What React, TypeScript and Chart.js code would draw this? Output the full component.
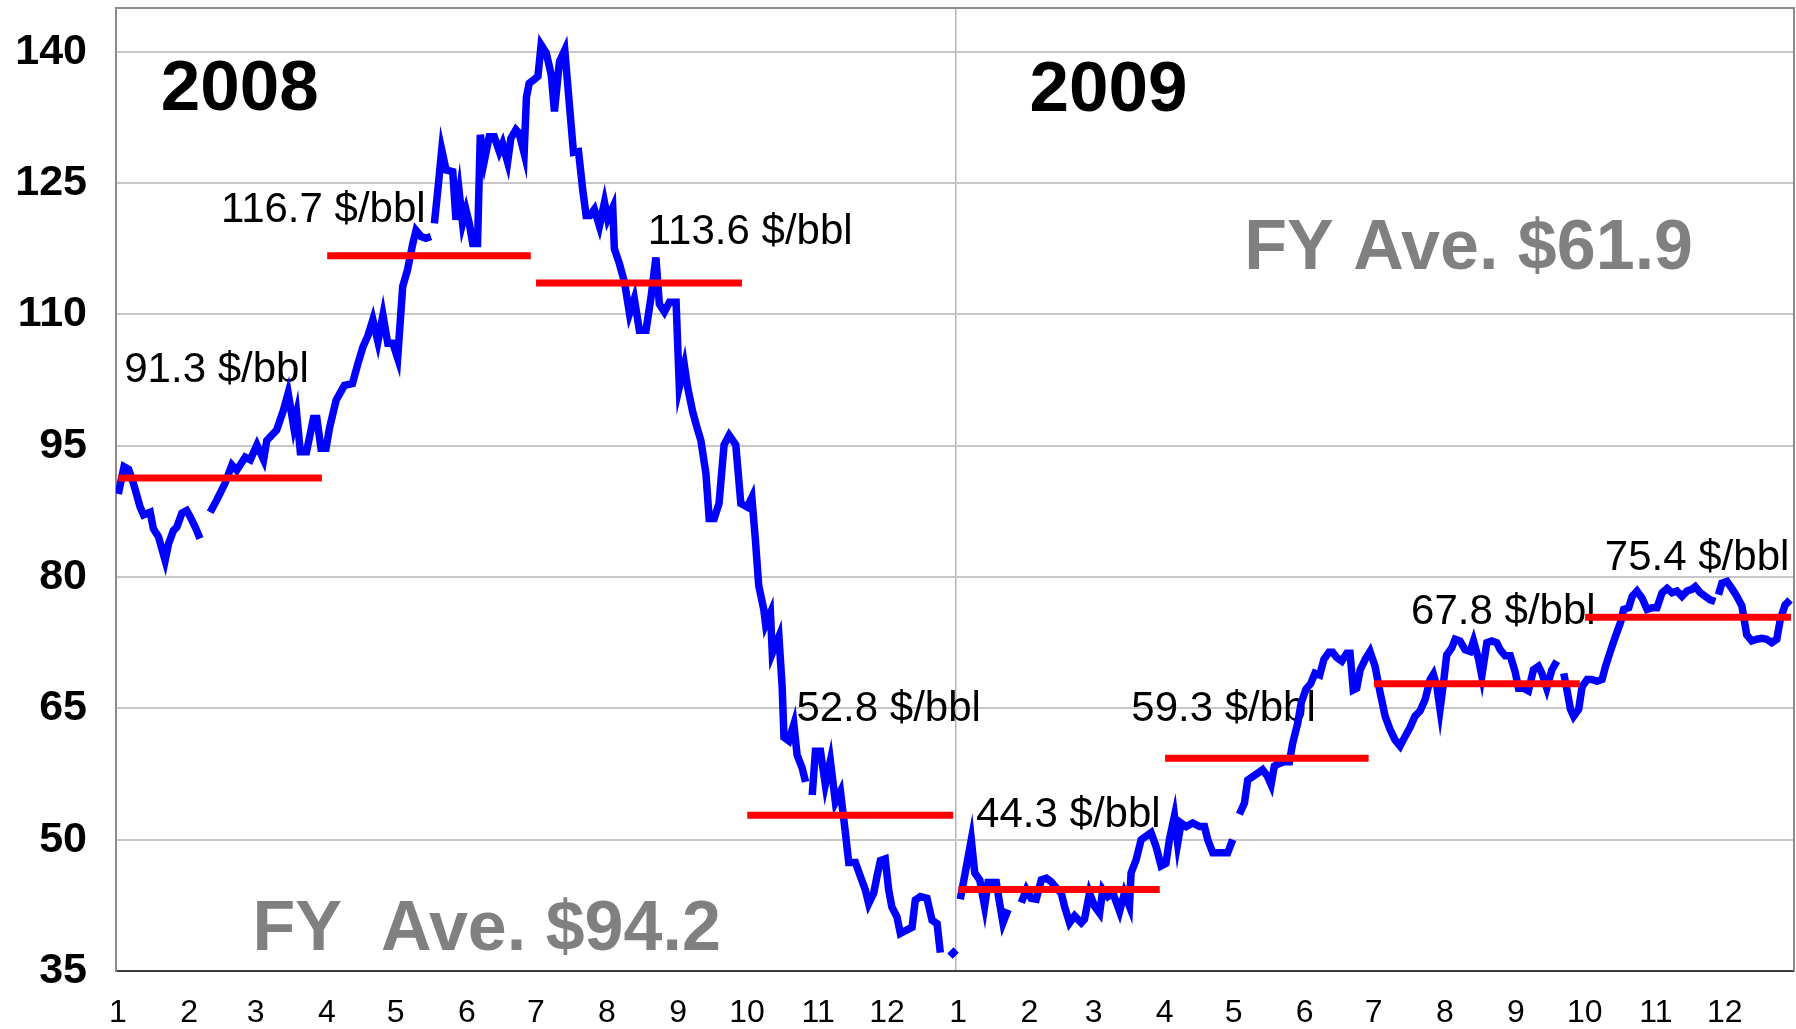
import React, { useEffect, useRef } from "react";
import { Chart, registerables } from "chart.js";

Chart.register(...registerables);

// ---- Data (day index from 2008-01-01, price in $/bbl; null = gap in the series) ----
const days2008 = [
  1, 3.5, 5.5, 7.6, 10.5, 12, 14.9, 16.3, 18.5, 21.4,
  22.9, 25, 26.5, 28.7, 30.8, 32.3, 34.5, 36.6, 38.5, 41,
  43.9, 47.5, 50.5, 52.6, 56.3, 58.5, 61.4, 64.3, 65.7, 70,
  73, 75, 77.4, 78.7, 80.3, 83, 86, 87.5, 89.3, 91.5,
  93, 95.9, 99.5, 103, 105.4, 107.6, 109.8, 111.9, 114.1, 116.3,
  118.4, 120.6, 122.7, 124.9, 127, 129.3, 130.7, 132.9, 135, 137.2,
  138, 138.7, 140.2, 141.9, 143.8, 146.7, 148.1, 149.6, 151, 152.5,
  153.9, 155.4, 157.5, 158.7, 160.5, 162.6, 164.8, 167, 168.4, 170.6,
  172, 174.2, 175.6, 177.8, 178.8, 180, 182, 183.8, 185.2, 187.4,
  189.6, 191, 193.2, 195.5, 197.5, 199.3, 201.5, 203.3, 204.8, 206.5,
  208.4, 210.6, 212.8, 214.2, 216.4, 217.1, 219.3, 221.5, 223.7, 225.8,
  228, 230.9, 233.1, 235.2, 236.7, 238.9, 241.1, 244, 245.4, 247.6,
  249, 251.2, 253.4, 254.8, 257, 258.4, 260.6, 262.7, 264.9, 267.1,
  270, 272.2, 275, 277, 278.5, 280, 282.2, 283, 285.1, 285.9,
  288.8, 290.2, 291, 293.1, 295.3, 296.7, 298.9, 300.4, 302, 303.3,
  304.7, 306.9, 309, 311.2, 313.4, 315.6, 317.7, 319.2, 322.1, 324.3,
  326.4, 327.9, 330.1, 331.5, 333, 335.1, 336.6, 338, 340.2, 341.7,
  344.6, 346.8, 348.2, 350.4, 353.3, 355.5, 357.7, 359.1, 360.5, 363.3,
  366, 367,
];
const prices2008 = [
  89.5, 92.6, 92.3, 90.7, 88.0, 87.1, 87.4, 85.5, 84.6, 81.9,
  83.8, 85.3, 85.7, 87.3, 87.6, 86.9, 85.7, 84.4, null, 87.4,
  88.8, 90.7, 92.8, 92.2, 93.7, 93.4, 95.1, 93.4, 95.6, 96.8,
  99.1, 101, 97.2, 98.7, 94.3, 94.3, 98.1, 98.1, 94.7, 94.7,
  97, 100.2, 101.9, 102.1, 104.4, 106.3, 107.6, 109.4, 106.9, 109.9,
  106.7, 106.7, 105, 113.2, 115.1, 118.1, 119.6, 118.9, 118.7, 118.9,
  null, 120.4, 124.2, 128.8, 126.5, 126.3, 120.8, 123.8, 120.4, 121.9,
  120.4, 118.1, 118.1, 130.5, 127.6, 130.3, 130.3, 128.6, 129.5, 127.4,
  130.1, 131.1, 130.7, 128.4, 134.8, 136.4, 136.8, 137.2, 140.8, 139.9,
  137.4, 133.2, 138.9, 140.2, 134, 128.5, 128.6, 124.3, 121.3, 121.3,
  122, 120.1, 122.8, 120.9, 122.2, 117.5, 115.8, 113.7, 110.1, 111.8,
  108.2, 108.2, 112, 116.5, 111.2, 110.3, 111.4, 111.4, 101.7, 104.2,
  101.7, 98.9, 96.8, 95.6, 91.8, 86.7, 86.7, 88.4, 95.1, 96.2,
  95.1, 88.4, 88, 89.1, 84.4, 79, 76.3, 74.6, 75.9, 71.3,
  73.2, 67.5, 61.7, 61.3, 63.2, 59.7, 58.2, 56.6, null, 55.1,
  60.1, 60.1, 56.3, 59, 54.3, 55.5, 50.9, 47.4, 47.4, 45.8,
  44.3, 42.7, 43.9, 45.8, 47.6, 47.8, 44.3, 42.3, 41.2, 39.3,
  39.7, 40, 43.1, 43.5, 43.3, 40.8, 40.4, 37.1, null, 36.7,
  37.4, null,
];
const days2009 = [
  367.8, 370.5, 372.6, 374.1, 376.3, 378.4, 379.9, 382, 383.5, 384.9,
  386.4, 388.6, 391, 394.4, 396.6, 398.7, 400.9, 403.1, 405.3, 407.4,
  409.6, 411.8, 413.2, 415.4, 417.6, 420.5, 421.9, 424.1, 426.3, 428.5,
  429.9, 432.1, 434.3, 437.2, 439.3, 441.5, 442.2, 444.4, 446.6, 448.7,
  450.9, 453.1, 455.3, 457.4, 458.9, 461.1, 462.5, 464, 466.2, 469.1,
  472, 474.2, 475.6, 477.8, 480, 482.1, 484.3, 486.5, 488, 489.4,
  491.6, 493, 495.2, 497.4, 499.5, 501.7, 503.2, 504.6, 506.8, 509,
  511.2, 512.6, 514.8, 516.3, 518.4, 520.4, 522.3, 524.4, 526.2, 528.4,
  530, 531.8, 534, 536.2, 537.6, 539, 540.5, 542, 544.2, 546.3,
  548.5, 550.7, 552.9, 555, 557.2, 559.4, 561.6, 563.7, 565.9, 568.1,
  570.3, 572.5, 573.9, 575.4, 576.8, 578.3, 579.7, 581.9, 583.4, 585.5,
  587.7, 589.9, 591.4, 593.6, 595, 597.2, 599.3, 601.5, 603, 605.2,
  607.4, 609.5, 611, 613.2, 615.3, 617.5, 619.7, 621.2, 623.3, 625.5,
  627.7, 629, 630.7, 632.1, 633.6, 635, 637.2, 638.7, 640.9, 643,
  645.2, 647.4, 648.9, 651, 653.2, 655.4, 656.8, 659, 660.5, 662.6,
  664.8, 667, 669.2, 671.3, 673.5, 675.7, 677.9, 680, 682.2, 684.4,
  686.5, 688, 690.2, 692.3, 694.5, 696.7, 697.4, 698.1, 699.6, 701.8,
  703.9, 706.1, 708.3, 710.4, 712.6, 714.8, 717, 719.1, 721.3, 723.5,
  725, 727.1, 729.3,
];
const prices2009 = [
  43.2, 47, 50, 46.2, 45.4, 42.4, 45.1, 45.1, 45.1, 42.8,
  40.5, 42, null, 42.8, 44.3, 43.3, 43.2, 45.4, 45.6, 45.2,
  44.5, 43.9, 42.4, 40.5, 41.3, 40.5, 40.9, 43.9, 42.4, 41.6,
  44.3, 43.5, 43.9, 41.8, 43.9, 42.4, 46.2, 47.7, 50, 50.4,
  50.8, 49.2, 47, 47.3, 50, 52.7, 49.6, 51.9, 51.5, 51.9,
  51.5, 51.5, 50, 48.5, 48.5, 48.5, 48.5, 50, null, 52.9,
  54.2, 56.8, 57.2, 57.6, 58, 57.2, 56.3, 58.4, 58.7, 58.9,
  58.9, 61, 63.3, 65.6, 67.2, 67.8, 69, 68.8, 70.6, 71.4,
  71.4, 70.8, 70.4, 71.3, 71.3, 67.1, 67.3, 69.4, 70.6, 71.5,
  69.8, 66.8, 64.1, 62.6, 61.4, 60.7, 61.8, 62.8, 64.1, 64.7,
  66, 68.3, 68.9, 67.5, 64.9, 67.9, 71.1, 71.9, 72.9, 72.7,
  71.7, 71.5, 72.7, 70.6, 68.7, 72.5, 72.7, 72.5, 71.7, 71,
  71, 69.2, 67.3, 67.3, 67, 69.4, 69.8, 69, 67.3, 69.4,
  70.4, null, 69, 67.1, 64.9, 64.1, 64.9, 67.5, 68.3, 68.3,
  68.1, 68.3, 69.8, 71.5, 73.2, 74.8, 76.3, 76.5, 77.8, 78.4,
  77.6, 76.3, 76.5, 76.5, 78.2, 78.7, 78.2, 78.4, 77.8, 78.4,
  78.6, 78.9, 78.2, 77.8, 77.4, 77.2, null, 78, 79.3, 79.5,
  78.7, 77.8, 76.7, 73.4, 72.7, 72.9, 73, 72.9, 72.5, 72.9,
  75.1, 76.8, 77.4,
];

const quarterAverages = [91.3, 116.7, 113.6, 52.8, 44.3, 59.3, 67.8, 75.4];
const yearLabels = ["2008", "2009"];
const fyAverageLabels = ["FY  Ave. $94.2", "FY Ave. $61.9"];
const yTicks = [35, 50, 65, 80, 95, 110, 125, 140];
const monthLabels = [
  "1", "2", "3", "4", "5", "6", "7", "8", "9", "10", "11", "12",
  "1", "2", "3", "4", "5", "6", "7", "8", "9", "10", "11", "12",
];
const years = [2008, 2009];

// ---- Layout (annotation anchors in axis units: [day, value] of text left/baseline) ----
const quarterLabelAnchors = [
  [3.6, 102.3], [45.7, 120.6], [231.7, 118.0], [296.4, 63.6],
  [374.7, 51.5], [442.3, 63.6], [564.2, 74.6], [648.6, 80.8],
];
const yearLabelAnchors = [[19.5, 133.3], [398, 133.2]];
const fyLabelAnchors = [[59.5, 37.4], [491.5, 115.2]];

const FONT = '"Liberation Sans", Arial, Helvetica, sans-serif';

const DAY_MS = 86400000;
const monthStarts: number[] = [];
years.forEach((yr) => {
  for (let m = 0; m < 12; m++) {
    monthStarts.push(Math.round((Date.UTC(yr, m, 1) - Date.UTC(2008, 0, 1)) / DAY_MS));
  }
});
const totalDays = Math.round((Date.UTC(2010, 0, 1) - Date.UTC(2008, 0, 1)) / DAY_MS);
const yearBoundary = monthStarts[12];

export default function App() {
  const canvasRef = useRef<HTMLCanvasElement | null>(null);

  useEffect(() => {
    const canvas = canvasRef.current;
    if (!canvas) return;

    const allDays = [...days2008, ...days2009];
    const allPrices = [...prices2008, ...prices2009];
    const pricePoints = allDays.map((d, i) => ({ x: d, y: allPrices[i] }));

    const quarterBounds = quarterAverages.map((_, i) => {
      const start = monthStarts[i * 3];
      const end = i * 3 + 3 < monthStarts.length ? monthStarts[i * 3 + 3] : totalDays;
      return [start, end];
    });

    const avgDatasets = quarterAverages.map((v, i) => ({
      type: "line" as const,
      data: [
        { x: quarterBounds[i][0] + 1, y: v },
        { x: quarterBounds[i][1] - 1.3, y: v },
      ],
      borderColor: "#ff0000",
      borderWidth: 7,
      pointRadius: 0,
      borderCapStyle: "butt" as const,
      order: 0,
    }));

    const textPlugin = {
      id: "textAnnotations",
      beforeDatasetsDraw(chart: any) {
        const { ctx, scales } = chart;
        const xs = scales.x;
        const ys = scales.y;
        ctx.save();
        ctx.textAlign = "left";
        ctx.textBaseline = "alphabetic";

        ctx.fillStyle = "#000000";
        ctx.font = `42px ${FONT}`;
        quarterAverages.forEach((v, i) => {
          const [d, val] = quarterLabelAnchors[i];
          ctx.fillText(`${v.toFixed(1)} $/bbl`, xs.getPixelForValue(d), ys.getPixelForValue(val));
        });

        ctx.font = `bold 71px ${FONT}`;
        yearLabels.forEach((t, i) => {
          const [d, val] = yearLabelAnchors[i];
          ctx.fillText(t, xs.getPixelForValue(d), ys.getPixelForValue(val));
        });

        ctx.fillStyle = "#808080";
        ctx.font = `bold 70px ${FONT}`;
        fyAverageLabels.forEach((t, i) => {
          const [d, val] = fyLabelAnchors[i];
          ctx.fillText(t, xs.getPixelForValue(d), ys.getPixelForValue(val));
        });
        ctx.restore();
      },
      afterDraw(chart: any) {
        const { ctx, chartArea } = chart;
        ctx.save();
        ctx.strokeStyle = "#8c8c8c";
        ctx.lineWidth = 2;
        ctx.beginPath();
        ctx.moveTo(chartArea.left, chartArea.top);
        ctx.lineTo(chartArea.right, chartArea.top);
        ctx.lineTo(chartArea.right, chartArea.bottom);
        ctx.stroke();
        ctx.restore();
      },
    };

    const chart = new Chart(canvas, {
      type: "line",
      data: {
        datasets: [
          ...avgDatasets,
          {
            type: "line" as const,
            data: pricePoints,
            borderColor: "#0000ff",
            borderWidth: 7.5,
            pointRadius: 0,
            spanGaps: false,
            tension: 0,
            order: 1,
          },
        ],
      },
      options: {
        animation: false,
        responsive: false,
        devicePixelRatio: 1,
        events: [],
        layout: { padding: { top: 8, right: 2, left: 0, bottom: 0 } },
        plugins: {
          legend: { display: false },
          tooltip: { enabled: false },
        },
        scales: {
          x: {
            type: "linear",
            min: 0,
            max: totalDays,
            afterBuildTicks: (scale: any) => {
              scale.ticks = monthStarts.map((v) => ({ value: v }));
            },
            afterFit: (scale: any) => {
              scale.height = 58;
              scale.paddingLeft = 0;
              scale.paddingRight = 0;
            },
            ticks: {
              autoSkip: false,
              maxRotation: 0,
              minRotation: 0,
              padding: 23,
              labelOffset: 2,
              color: "#000000",
              font: { family: FONT, size: 32 },
              callback: (_v: any, index: number) => monthLabels[index],
            },
            grid: {
              drawTicks: false,
              lineWidth: 1.5,
              color: (ctx: any) =>
                ctx.tick && ctx.tick.value === yearBoundary ? "#b4b4b4" : "rgba(0,0,0,0)",
            },
            border: { display: true, color: "#3c3c3c", width: 2 },
          },
          y: {
            type: "linear",
            min: 35,
            max: 145,
            afterBuildTicks: (scale: any) => {
              scale.ticks = yTicks.map((v) => ({ value: v }));
            },
            afterFit: (scale: any) => {
              scale.width = 116;
              scale.paddingTop = 0;
              scale.paddingBottom = 0;
            },
            ticks: {
              padding: 29,
              color: "#000000",
              font: { family: FONT, size: 43, weight: "bold" },
              callback: (v: any) => String(v),
            },
            grid: {
              drawTicks: false,
              lineWidth: 2,
              color: (ctx: any) =>
                ctx.tick && ctx.tick.value === 35 ? "rgba(0,0,0,0)" : "#c6c6c6",
            },
            border: { display: true, color: "#8c8c8c", width: 2 },
          },
        },
      },
      plugins: [textPlugin],
    } as any);

    return () => {
      chart.destroy();
    };
  }, []);

  return (
    <div
      style={{
        position: "fixed",
        left: 0,
        top: 0,
        width: 1796,
        height: 1029,
        background: "#ffffff",
      }}
    >
      <canvas
        ref={canvasRef}
        width={1796}
        height={1029}
        style={{ display: "block", width: 1796, height: 1029 }}
      />
    </div>
  );
}
